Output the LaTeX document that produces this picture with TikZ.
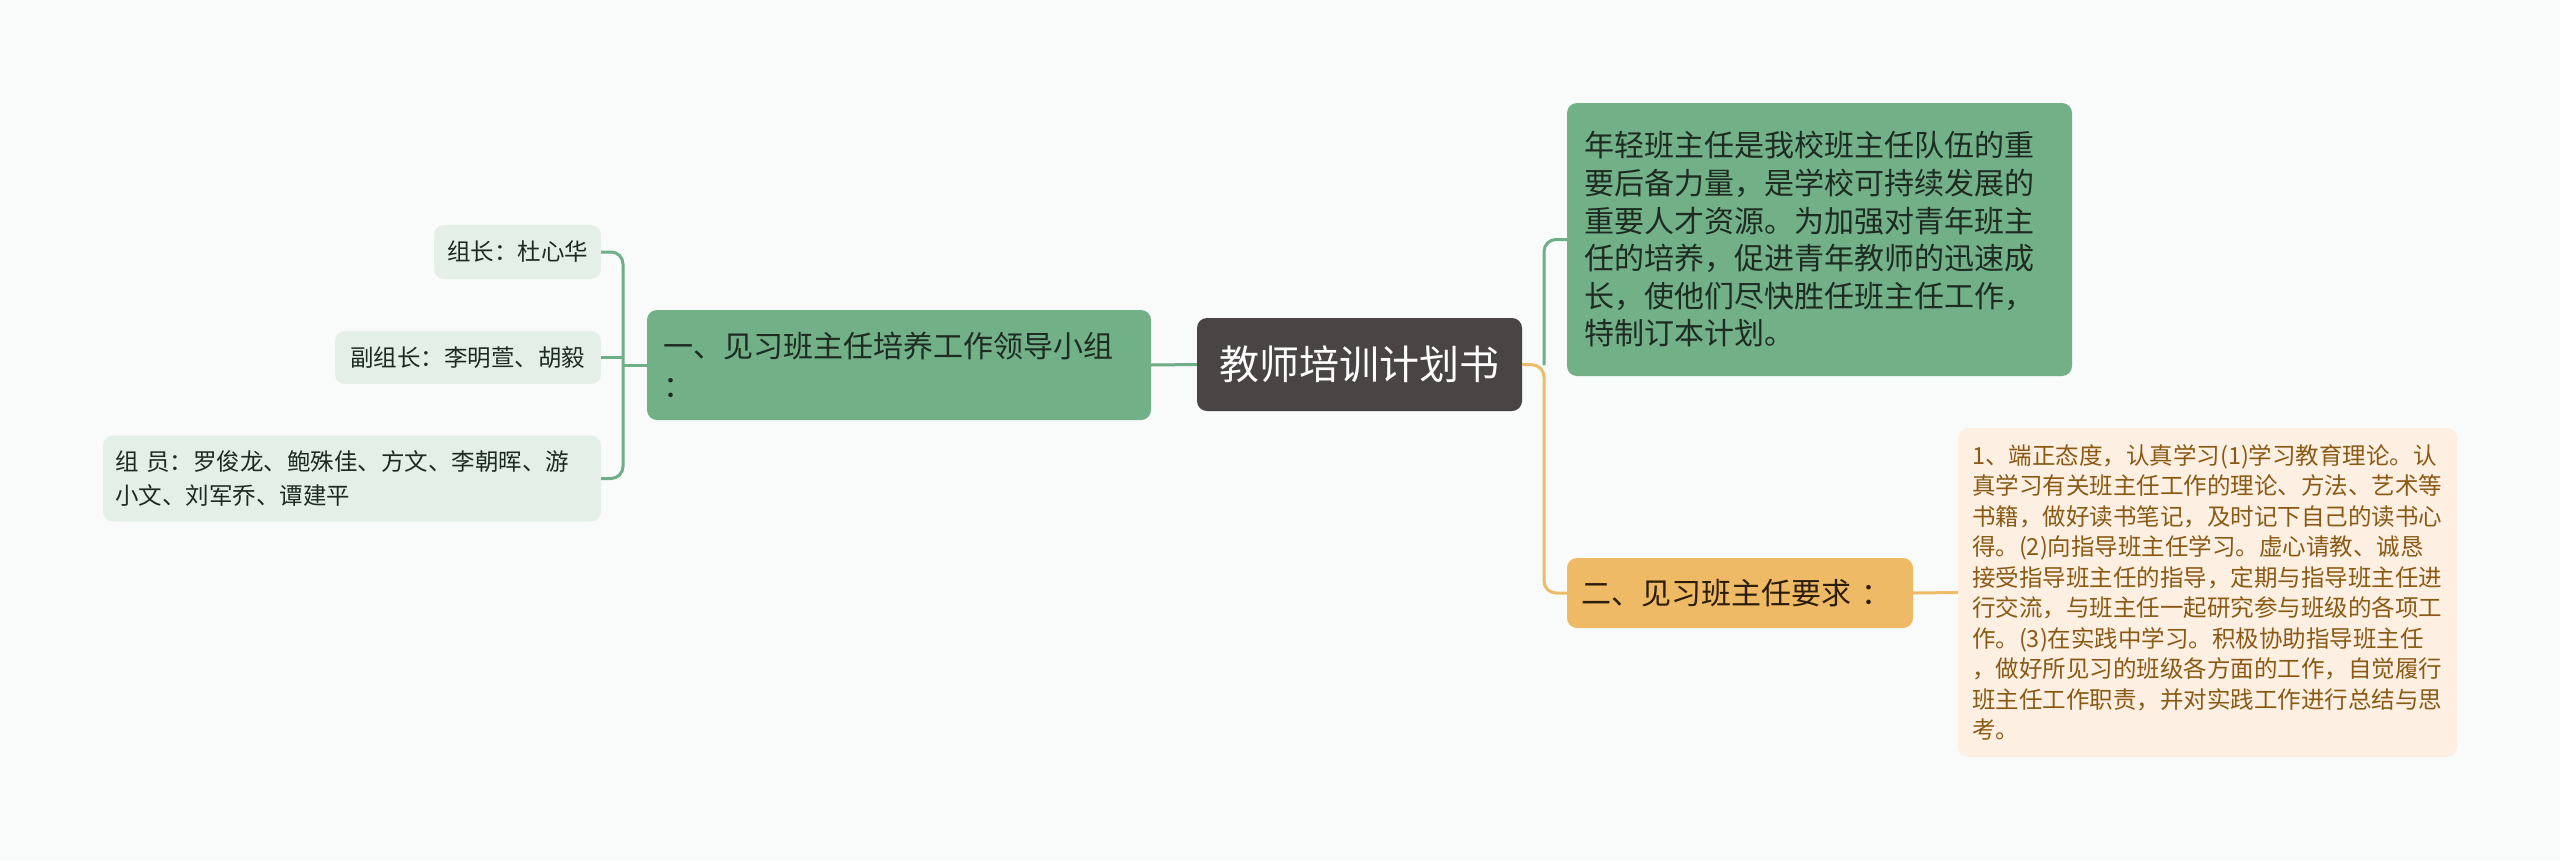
\documentclass[tikz,border=0pt]{standalone}
\usepackage{fontspec}
\setmainfont{Noto Sans CJK SC}
\newfontfamily\cjk{Noto Sans CJK SC}
\definecolor{bgc}{HTML}{F8FBFA}
\definecolor{rootfill}{HTML}{4A4545}
\definecolor{gfill}{HTML}{72B087}
\definecolor{gline}{HTML}{6FAE86}
\definecolor{lgfill}{HTML}{E3EFE7}
\definecolor{gtext}{HTML}{1E2B22}
\definecolor{ofill}{HTML}{EFBA65}
\definecolor{oline}{HTML}{EEBC68}
\definecolor{lofill}{HTML}{FDF0E3}
\definecolor{otext}{HTML}{8A5A14}
\definecolor{odark}{HTML}{2B1D0A}
\tikzset{
  basebox/.style={rectangle, rounded corners=10pt, inner ysep=0pt, anchor=center},
  rootbox/.style={basebox, fill=rootfill, text=white, font=\cjk\fontsize{40pt}{48pt}\selectfont, align=center},
  mainbox/.style={basebox, fill=gfill, text=gtext, font=\cjk\fontsize{30pt}{40pt}\selectfont, align=left},
  leafbox/.style={basebox, fill=lgfill, text=gtext, font=\cjk\fontsize{23.5pt}{34pt}\selectfont, align=left},
  reqbox/.style={basebox, fill=ofill, text=odark, font=\cjk\fontsize{30pt}{38pt}\selectfont, align=left},
  detbox/.style={basebox, fill=lofill, text=otext, font=\cjk\fontsize{23.5pt}{30.5pt}\selectfont, align=left},
  gcon/.style={draw=gline, line width=3pt, rounded corners=12pt},
  ocon/.style={draw=oline, line width=3pt, rounded corners=12pt}
}
\begin{document}
\begin{tikzpicture}[x=1pt,y=-1pt]
\useasboundingbox (0,0) rectangle (2560,860);
\fill[bgc] (0,0) rectangle (2560,860);

% root
\node[rootbox, minimum width=325pt, minimum height=93pt] (root) at (1359.5,364.5) {教师培训计划书};

% left branch
\node[mainbox, text width=472pt, inner xsep=16pt, minimum height=110pt] (lead) at (899,365)
  {一、见习班主任培养工作领导小组\\：};
\node[leafbox, text width=141pt, inner xsep=13pt, minimum height=54pt] (l1) at (517.5,252) {组长：杜心华};
\node[leafbox, text width=236pt, inner xsep=15pt, minimum height=53pt] (l2) at (468,357.5) {副组长：李明萱、胡毅};
\node[leafbox, text width=474pt, inner xsep=12pt, minimum height=86pt] (l3) at (352,478.5)
  {组 员：罗俊龙、鲍殊佳、方文、李朝晖、游\\小文、刘军乔、谭建平};

% right branch
\node[mainbox, font=\cjk\fontsize{30pt}{37.6pt}\selectfont, text width=471pt, inner xsep=17pt, minimum height=273pt] (intro) at (1819.5,239.5)
  {年轻班主任是我校班主任队伍的重\\要后备力量，是学校可持续发展的\\重要人才资源。为加强对青年班主\\任的培养，促进青年教师的迅速成\\长，使他们尽快胜任班主任工作，\\特制订本计划。};
\node[reqbox, text width=318pt, inner xsep=14pt, minimum height=70pt] (req) at (1740,593) {二、见习班主任要求 ：};
\node[detbox, text width=471pt, inner xsep=14pt, minimum height=329pt] (det) at (2207.5,592.5)
  {1、端正态度，认真学习(1)学习教育理论。认\\真学习有关班主任工作的理论、方法、艺术等\\书籍，做好读书笔记，及时记下自己的读书心\\得。(2)向指导班主任学习。虚心请教、诚恳\\接受指导班主任的指导，定期与指导班主任进\\行交流，与班主任一起研究参与班级的各项工\\作。(3)在实践中学习。积极协助指导班主任\\，做好所见习的班级各方面的工作，自觉履行\\班主任工作职责，并对实践工作进行总结与思\\考。};

% junctions
\coordinate (lj) at (623,365);
\coordinate (rj) at (1544,365);

% connectors left
\draw[gcon] (root.west) -- (lead.east);
\draw[gcon] (lead.west) -- (lj);
\draw[gcon] (l1.east) -| (lj) |- (l3.east);
\draw[gcon] (l2.east) -- (l2.east -| lj);

% connectors right
\draw[gcon] (rj) |- (intro.west);
\draw[ocon] (root.east) -- (rj) |- (req.west);
\draw[ocon] (req.east) -- (det.west);
\end{tikzpicture}
\end{document}
